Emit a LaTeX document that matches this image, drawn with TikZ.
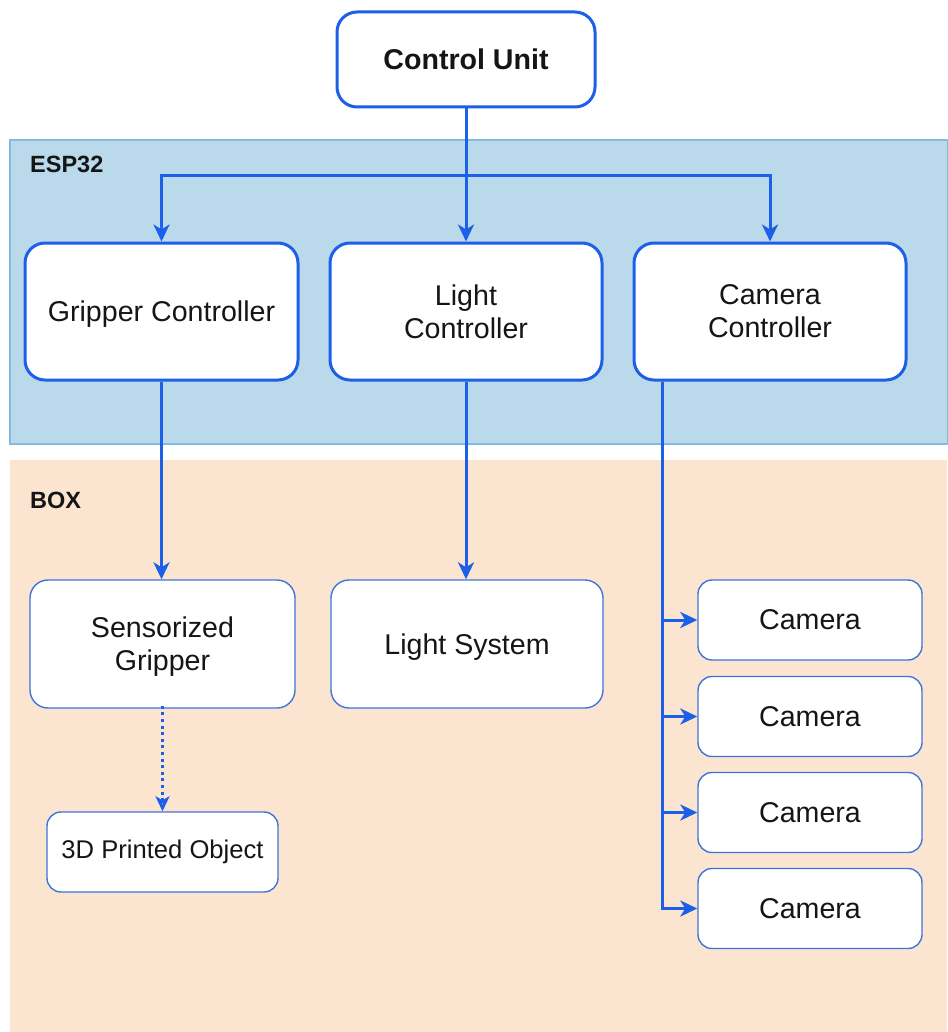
\documentclass[tikz,border=0pt]{standalone}
\usepackage{fontspec}
\setmainfont{Liberation Sans}
\usetikzlibrary{arrows.meta}
\definecolor{linkblue}{HTML}{1C5FE8}
\definecolor{thinblue}{HTML}{3F74DA}
\definecolor{espfill}{HTML}{BAD9EB}
\definecolor{espedge}{HTML}{84B9E2}
\definecolor{boxfill}{HTML}{FCE5D0}
\definecolor{ink}{HTML}{151515}
\tikzset{
  bigbox/.style={draw=linkblue, line width=3pt, fill=white, rounded corners=20pt,
    align=center, text=ink, font=\fontsize{28.6}{33}\selectfont, inner sep=0pt},
  smallbox/.style={draw=thinblue, line width=1.4pt, fill=white, rounded corners=14pt,
    align=center, text=ink, font=\fontsize{28.6}{33}\selectfont, inner sep=0pt},
  flat/.style={text depth=0pt},
  link/.style={draw=linkblue, line width=3pt, -{Stealth[length=17pt,width=16pt,inset=5pt]}},
  dotlink/.style={draw=linkblue, line width=3pt, line cap=butt, dash pattern=on 3pt off 3.6pt,
    -{Stealth[open,length=15pt,width=14pt,inset=4pt,line width=3pt,line cap=butt]}},
  zonelabel/.style={anchor=west, text=ink, font=\bfseries\fontsize{23.5}{28}\selectfont, inner sep=0pt}
}
\begin{document}
\begin{tikzpicture}[x=1pt,y=-1pt]
  \useasboundingbox (0,0) rectangle (947,1032);
  \fill[white] (0,0) rectangle (947,1032);
  % zones
  \fill[boxfill] (10,460) rectangle (947,1032);
  \draw[espedge, line width=1.2pt, fill=espfill] (10,140) rectangle (948,444);
  \node[zonelabel] (esp) at (30,164) {ESP32};
  \node[zonelabel] (boxlbl) at (30,500) {BOX};

  % nodes
  \node[bigbox, minimum width=258pt, minimum height=95pt, font=\bfseries\fontsize{28.6}{33}\selectfont] (cu) at (466,59.5) {Control Unit};
  \node[bigbox, flat, minimum width=273pt, minimum height=137pt] (gc) at (161.5,311.5) {Gripper Controller};
  \node[bigbox, minimum width=272pt, minimum height=137pt] (lc) at (466,311.5) {Light\\Controller};
  \node[bigbox, minimum width=272pt, minimum height=137pt] (cc) at (770,311.5) {Camera\\Controller};

  \node[smallbox, flat, minimum width=265pt, minimum height=128pt, rounded corners=18pt] (sg) at (162.5,644) {Sensorized\\Gripper};
  \node[smallbox, flat, minimum width=272pt, minimum height=128pt, rounded corners=18pt] (ls) at (467,644) {Light System};
  \node[smallbox, minimum width=231pt, minimum height=80pt, font=\fontsize{25.6}{30}\selectfont] (po) at (162.5,852) {3D Printed Object};

  \node[smallbox, minimum width=224pt, minimum height=80pt] (c1) at (810,620) {Camera};
  \node[smallbox, minimum width=224pt, minimum height=80pt] (c2) at (810,716.5) {Camera};
  \node[smallbox, minimum width=224pt, minimum height=80pt] (c3) at (810,812.5) {Camera};
  \node[smallbox, minimum width=224pt, minimum height=80pt] (c4) at (810,908.5) {Camera};

  % connectors
  \coordinate (split) at (466,176);
  \coordinate (camtap) at ([xshift=30pt]cc.south west);
  \draw[link] (cu.south) -- (lc.north);
  \draw[link] (split) -| (gc.north);
  \draw[link] (split) -| (cc.north);
  \draw[link] (gc.south) -- (gc.south |- sg.north);
  \draw[link] (lc.south) -- (ls.north -| lc.south);
  \draw[link] (camtap) |- (c1.west);
  \draw[link] (camtap) |- (c2.west);
  \draw[link] (camtap) |- (c3.west);
  \draw[link] (camtap) |- (c4.west);
  \draw[dotlink] ([yshift=3pt]sg.south) -- (po.north);
\end{tikzpicture}
\end{document}
